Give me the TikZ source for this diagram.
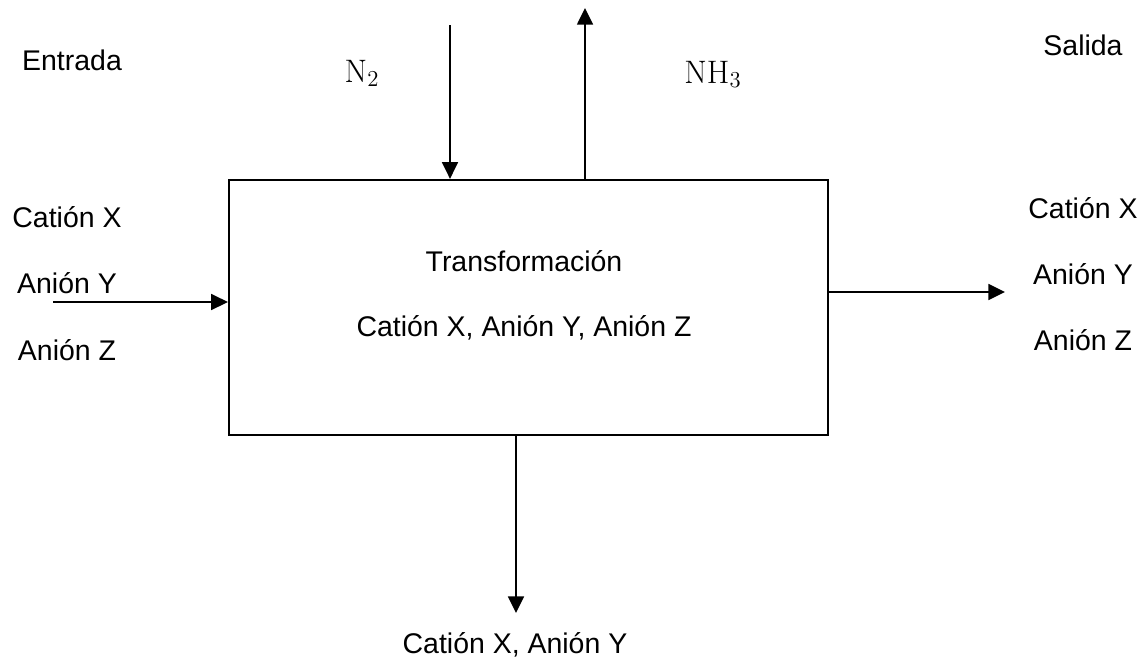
\RequirePackage{fix-cm}
\documentclass[tikz,border=0pt]{standalone}
\usepackage[no-math]{fontspec}
\setmainfont{Liberation Sans}
\usepackage{amsmath}
\usepackage{tikz}
\usetikzlibrary{arrows.meta}

\begin{document}
\begin{tikzpicture}[
  x=0.02cm, y=-0.02cm,
  proc/.style={draw, line width=1.3pt, minimum width=11.98cm,
               minimum height=5.1cm, inner sep=0pt},
  flow/.style={-{Triangle[length=9.5pt,width=9pt]}, line width=1.3pt},
  lbl/.style={font=\fontsize{16.2}{19}\selectfont, inner sep=0pt, anchor=base},
  chem/.style={lbl, font=\fontsize{18.5}{22}\selectfont}
]
  \useasboundingbox (0,0) rectangle (1146,663);
  \node[proc] (proc) at (528.5,307.5) {};
  \node[lbl] (trans) at (524,271) {Transformación};
  \node[lbl] (mix) at (524,336) {Catión X, Anión Y, Anión Z};

  \node[lbl] (ent) at (72,70) {Entrada};
  \node[lbl] (sal) at (1083,55) {Salida};
  \node[chem] (ntwo) at (362,82) {$\mathrm{N}_2$};
  \node[chem] (nhthree) at (713,83) {$\mathrm{NH}_3$};

  \node[lbl] (incat) at (67,227) {Catión X};
  \node[lbl] (inany) at (67,293) {Anión Y};
  \node[lbl] (inanz) at (67,360) {Anión Z};
  \node[lbl] (outcat) at (1083,218) {Catión X};
  \node[lbl] (outany) at (1083,284) {Anión Y};
  \node[lbl] (outanz) at (1083,350) {Anión Z};
  \node[lbl] (rest) at (515,653) {Catión X, Anión Y};

  \coordinate (nin) at (450,25);
  \coordinate (nout) at (585,8);
  \coordinate (feed) at (53,302);
  \coordinate (prod) at (1005,292);
  \coordinate (res) at (516,613);

  \draw[flow] (nin) -- (nin |- proc.north);
  \draw[flow] (proc.north -| nout) -- (nout);
  \draw[flow] (feed) -- (feed -| proc.west);
  \draw[flow] (proc.east |- prod) -- (prod);
  \draw[flow] (proc.south -| res) -- (res);
\end{tikzpicture}
\end{document}
